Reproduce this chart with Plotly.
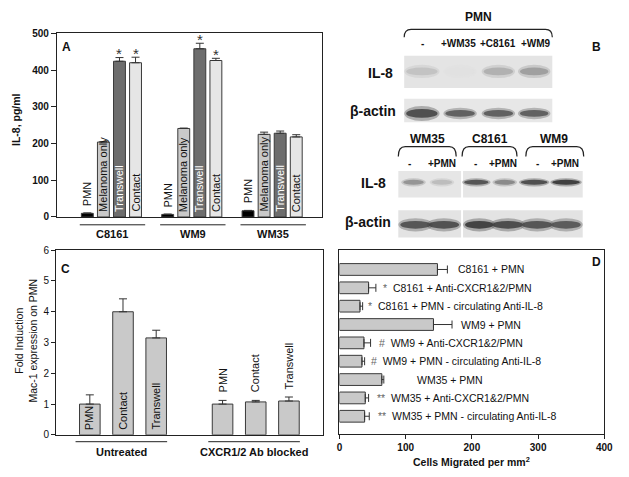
import plotly.graph_objects as go

W, H = 629, 477
FONT = "Arial, 'Liberation Sans', sans-serif"

# ---------------- Panel A data ----------------
a_groups = ["C8161", "WM9", "WM35"]
a_conditions = ["PMN", "Melanoma only", "Transwell", "Contact"]
a_c8161 = [10, 204, 424, 420]
a_c8161_err = [1, 1, 10, 15]
a_wm9 = [7, 241, 458, 426]
a_wm9_err = [1, 1, 15, 6]
a_wm35 = [17, 225, 228, 218]
a_wm35_err = [1, 6, 6, 6]
a_c8161_sig = ["", "", "*", "*"]
a_wm9_sig = ["", "", "*", "*"]
a_wm35_sig = ["", "", "", ""]

# ---------------- Panel C data ----------------
c_groups = ["Untreated", "CXCR1/2 Ab blocked"]
c_conditions = ["PMN", "Contact", "Transwell"]
c_untreated = [1.0, 4.0, 3.15]
c_untreated_err = [0.3, 0.42, 0.25]
c_blocked = [1.0, 1.07, 1.1]
c_blocked_err = [0.12, 0.05, 0.13]

# ---------------- Panel D data ----------------
d_labels = ["C8161 + PMN", "C8161 + Anti-CXCR1&2/PMN", "C8161 + PMN - circulating Anti-IL-8",
            "WM9 + PMN", "WM9 + Anti-CXCR1&2/PMN", "WM9 + PMN - circulating Anti-IL-8",
            "WM35 + PMN", "WM35 + Anti-CXCR1&2/PMN", "WM35 + PMN - circulating Anti-IL-8"]
d_values = [148, 44, 31, 142, 37, 34, 64, 39, 38]
d_errors = [15, 11, 4, 28, 10, 4, 3, 5, 7]
d_marks = ["", "*", "*", "", "#", "#", "", "**", "**"]

# ---------------- Panel B (western blot) ----------------
b_pmn_lanes = ["-", "+WM35", "+C8161", "+WM9"]
b_top_il8 = [0.25, 0.12, 0.33, 0.40]
b_top_actin = [0.75, 0.68, 0.68, 0.68]
b_cells = ["WM35", "C8161", "WM9"]
b_cell_lanes = ["-", "+PMN"]
b_low_il8 = [0.45, 0.28, 0.72, 0.5, 0.75, 0.82]
b_low_actin = [0.72, 0.74, 0.8, 0.76, 0.72, 0.7]


def px(x):
    return x / W


def py(y):
    return 1 - y / H


fig = go.Figure()

# ---- Panel A bars ----
a_fill = ["#000000", "#c9c9c9", "#6d6d6d", "#e6e6e6"]
a_vals = [a_c8161, a_wm9, a_wm35]
a_errs = [a_c8161_err, a_wm9_err, a_wm35_err]
a_sigs = [a_c8161_sig, a_wm9_sig, a_wm35_sig]
annotations = []
shapes = []
for ci, cond in enumerate(a_conditions):
    xs = [gi * 5 + ci for gi in range(len(a_groups))]
    ys = [a_vals[gi][ci] for gi in range(len(a_groups))]
    es = [a_errs[gi][ci] for gi in range(len(a_groups))]
    fig.add_trace(go.Bar(
        x=xs, y=ys, width=0.74, name=cond, xaxis="x", yaxis="y",
        marker=dict(color=a_fill[ci], line=dict(color="#3a3a3a", width=1)),
        error_y=dict(type="data", array=es, arrayminus=[0] * len(es), symmetric=False,
                     thickness=1, width=4, color="#333333"),
        showlegend=False, hoverinfo="skip"))
    for gi in range(len(a_groups)):
        x = gi * 5 + ci
        if cond == "PMN":
            annotations.append(dict(x=x, y=ys[gi], xref="x", yref="y", text=cond, textangle=-90,
                                    showarrow=False, yanchor="bottom", yshift=5,
                                    font=dict(size=11, color="#111")))
        else:
            annotations.append(dict(x=x, y=0, xref="x", yref="y", text=cond, textangle=-90,
                                    showarrow=False, yanchor="bottom", yshift=3,
                                    font=dict(size=11, color="#ffffff" if cond == "Transwell" else "#111")))
        s = a_sigs[gi][ci]
        if s:
            annotations.append(dict(x=x, y=ys[gi] + es[gi], xref="x", yref="y", text=s,
                                    showarrow=False, yanchor="middle", yshift=4,
                                    font=dict(size=15, color="#333")))

for gi, g in enumerate(a_groups):
    x0 = gi * 5 - 0.47
    x1 = gi * 5 + 3.6
    shapes.append(dict(type="line", xref="x", yref="paper", x0=x0, x1=x1,
                       y0=py(225), y1=py(225), line=dict(color="#222", width=1)))
    annotations.append(dict(x=(x0 + x1) / 2, y=py(234), xref="x", yref="paper", text="<b>%s</b>" % g,
                            showarrow=False, font=dict(size=11, color="#111")))

annotations.append(dict(x=px(14), y=py(117), xref="paper", yref="paper", text="<b>IL-8, pg/ml</b>",
                        textangle=-90, showarrow=False, font=dict(size=10.5, color="#111")))
annotations.append(dict(x=px(65), y=py(43), xref="paper", yref="paper", text="<b>A</b>",
                        showarrow=False, font=dict(size=12, color="#111")))

# ---- Panel C bars ----
c_vals = [c_untreated, c_blocked]
c_errs = [c_untreated_err, c_blocked_err]
for gi, g in enumerate(c_groups):
    xs = [gi * 4 + ci for ci in range(len(c_conditions))]
    fig.add_trace(go.Bar(
        x=xs, y=c_vals[gi], width=0.62, xaxis="x2", yaxis="y2",
        marker=dict(color="#c9c9c9", line=dict(color="#3a3a3a", width=1)),
        error_y=dict(type="data", array=c_errs[gi], arrayminus=[0] * 3, symmetric=False,
                     thickness=1, width=4, color="#333333"),
        showlegend=False, hoverinfo="skip"))
    for ci, cond in enumerate(c_conditions):
        x = gi * 4 + ci
        if gi == 0:
            annotations.append(dict(x=x, y=0, xref="x2", yref="y2", text=cond, textangle=-90,
                                    showarrow=False, yanchor="bottom", yshift=3,
                                    font=dict(size=11, color="#111")))
        else:
            annotations.append(dict(x=x, y=c_vals[gi][ci] + c_errs[gi][ci], xref="x2", yref="y2",
                                    text=cond, textangle=-90, showarrow=False, yanchor="bottom",
                                    yshift=6, font=dict(size=11, color="#111")))
    x0 = gi * 4 - 0.43
    x1 = gi * 4 + 2.33
    shapes.append(dict(type="line", xref="x2", yref="paper", x0=x0, x1=x1,
                       y0=py(447), y1=py(447), line=dict(color="#222", width=1)))
    annotations.append(dict(x=(x0 + x1) / 2, y=py(458), xref="x2", yref="paper", text="<b>%s</b>" % g,
                            showarrow=False, font=dict(size=11, color="#111")))

annotations.append(dict(x=px(24), y=py(344), xref="paper", yref="paper",
                        text="Fold Induction<br>Mac-1 expression on PMN",
                        textangle=-90, showarrow=False, font=dict(size=10.5, color="#111")))
annotations.append(dict(x=px(64), y=py(270), xref="paper", yref="paper", text="<b>C</b>",
                        showarrow=False, font=dict(size=12, color="#111")))

# ---- Panel D bars ----
d_pos = list(range(len(d_labels)))
fig.add_trace(go.Bar(
    y=d_pos, x=d_values, orientation="h", width=0.64, xaxis="x3", yaxis="y3",
    marker=dict(color="#c9c9c9", line=dict(color="#3a3a3a", width=1)),
    error_x=dict(type="data", array=d_errors, arrayminus=[0] * len(d_errors), symmetric=False,
                 thickness=1, width=4, color="#333333"),
    showlegend=False, hoverinfo="skip"))
d_label_x = [176, 63, 40, 181, 56, 44, 114, 54, 55]
for i, lab in enumerate(d_labels):
    mk = d_marks[i]
    txt = lab if not mk else '<span style="color:#666">%s</span>  %s' % (mk, lab)
    annotations.append(dict(x=d_label_x[i], y=i, xref="x3", yref="y3", text=txt, showarrow=False,
                            xanchor="left", font=dict(size=10.5, color="#111")))
annotations.append(dict(x=px(478), y=py(467), xref="paper", yref="paper",
                        text="<b>Cells Migrated per mm<sup>2</sup></b>", showarrow=False,
                        font=dict(size=10.5, color="#111")))
annotations.append(dict(x=px(605), y=py(263), xref="paper", yref="paper", text="<b>D</b>",
                        showarrow=False, font=dict(size=12, color="#111")))


# ---- Panel B blots ----
def rect(x0, y0, x1, y1, color):
    shapes.append(dict(type="rect", xref="paper", yref="paper", x0=px(x0), x1=px(x1),
                       y0=py(y1), y1=py(y0), fillcolor=color, line=dict(width=0), layer="above"))


def band(x0, x1, yc, h, inten):
    g = int(round(255 * (1 - inten)))
    col = "rgb(%d,%d,%d)" % (g, g, g)
    shapes.append(dict(type="circle", xref="paper", yref="paper", x0=px(x0 - 1), x1=px(x1 + 1),
                       y0=py(yc + h * 0.85), y1=py(yc - h * 0.85), fillcolor=col, opacity=0.35,
                       line=dict(width=0), layer="above"))
    shapes.append(dict(type="circle", xref="paper", yref="paper", x0=px(x0 + 1), x1=px(x1 - 1),
                       y0=py(yc + h * 0.5), y1=py(yc - h * 0.5), fillcolor=col, opacity=0.85,
                       line=dict(width=0), layer="above"))


def bracket(x0, x1, ytop, yend):
    r = 7
    path = "M %f %f Q %f %f %f %f L %f %f Q %f %f %f %f" % (
        px(x0), py(yend), px(x0), py(ytop), px(x0 + r), py(ytop),
        px(x1 - r), py(ytop), px(x1), py(ytop), px(x1), py(yend))
    shapes.append(dict(type="path", xref="paper", yref="paper", path=path,
                       line=dict(color="#222", width=1.2), layer="above"))


def label(x, y, text, size, anchor="center"):
    annotations.append(dict(x=px(x), y=py(y), xref="paper", yref="paper", text=text,
                            showarrow=False, xanchor=anchor, font=dict(size=size, color="#111")))


# top blots
bracket(409, 560, 25, 33)
label(485, 12, "<b>PMN</b>", 12)
top_lane_x = [(410, 444), (450, 482), (489, 521), (526, 557)]
top_lane_lbl_x = [428, 464, 505, 543]
for i, l in enumerate(b_pmn_lanes):
    label(top_lane_lbl_x[i], 39, "<b>%s</b>" % l, 10)
rect(409, 52, 560, 85, "#e4e4e4")
for i, v in enumerate(b_top_il8):
    band(top_lane_x[i][0], top_lane_x[i][1], 68, 8, v)
rect(409, 96, 560, 120, "#e7e7e7")
for i, v in enumerate(b_top_actin):
    band(top_lane_x[i][0], top_lane_x[i][1], 111, 9 if i == 0 else 7, v)
label(400, 70, "<b>IL-8</b>", 14, "right")
label(403, 109, "<b>β-actin</b>", 14, "right")
label(605, 43, "<b>B</b>", 12)

# lower blots
cell_spans = [(403, 462), (468, 524), (533, 592)]
cell_lbl_x = [433, 496, 562]
lane_lbl_x = [414, 448, 482, 510, 545, 573]
for i, c in enumerate(b_cells):
    bracket(cell_spans[i][0], cell_spans[i][1], 145, 155)
    label(cell_lbl_x[i], 137, "<b>%s</b>" % c, 12)
    for j, l in enumerate(b_cell_lanes):
        label(lane_lbl_x[i * 2 + j], 162, "<b>%s</b>" % l, 10)
rect(403, 170, 467, 197, "#e6e6e6")
rect(469, 170, 591, 197, "#e6e6e6")
low_lane_x = [(407, 430), (436, 459), (469, 496), (500, 523), (527, 556), (559, 589)]
for i, v in enumerate(b_low_il8):
    band(low_lane_x[i][0], low_lane_x[i][1], 181.5, 5, v)
rect(403, 210, 467, 238, "#e3e3e3")
rect(469, 210, 591, 238, "#e3e3e3")
actin_lane_x = [(404, 437), (433, 466), (470, 501), (498, 531), (528, 561), (558, 590)]
for i, v in enumerate(b_low_actin):
    band(actin_lane_x[i][0], actin_lane_x[i][1], 225, 8, v)
label(392, 182, "<b>IL-8</b>", 14, "right")
label(398, 222, "<b>β-actin</b>", 14, "right")

# explicit anchoring (paper-referenced annotations default to 'auto' anchors)
for a in annotations:
    a.setdefault("xanchor", "center")
    a.setdefault("yanchor", "middle")

# ---------------- Layout ----------------
axis_line = dict(showline=True, mirror=True, linecolor="#222", linewidth=1, showgrid=False,
                 zeroline=False)
fig.update_layout(
    width=W, height=H, margin=dict(l=0, r=0, t=0, b=0),
    paper_bgcolor="white", plot_bgcolor="white",
    font=dict(family=FONT, color="#111"),
    barmode="overlay",
    xaxis=dict(domain=[px(55), px(325)], range=[-1.89, 14.59], showticklabels=False, ticks="",
               anchor="y", **axis_line),
    yaxis=dict(domain=[py(217), py(29)], range=[0, 500], tickvals=[0, 100, 200, 300, 400, 500],
               ticks="outside", ticklen=5, tickcolor="#222",
               tickfont=dict(size=10, weight="bold"), anchor="x", **axis_line),
    xaxis2=dict(domain=[px(54), px(326)], range=[-1.02, 7.02], showticklabels=False, ticks="",
                anchor="y2", **axis_line),
    yaxis2=dict(domain=[py(440), py(251)], range=[0, 6], dtick=1, ticks="outside", ticklen=4,
                tickcolor="#222", tickfont=dict(size=10), anchor="x2", **axis_line),
    xaxis3=dict(domain=[px(343), px(613)], range=[0, 400], dtick=100, ticks="outside", ticklen=4,
                tickcolor="#222", tickfont=dict(size=10, weight="bold"), anchor="y3", **axis_line),
    yaxis3=dict(domain=[py(439), py(251)], range=[8.96, -1.05], showticklabels=False, ticks="",
                anchor="x3", **axis_line),
    annotations=annotations,
    shapes=shapes,
)

fig.write_html("out.html", config={"displayModeBar": False},
               post_script="document.body.style.margin='0';document.body.style.overflow='hidden';")
